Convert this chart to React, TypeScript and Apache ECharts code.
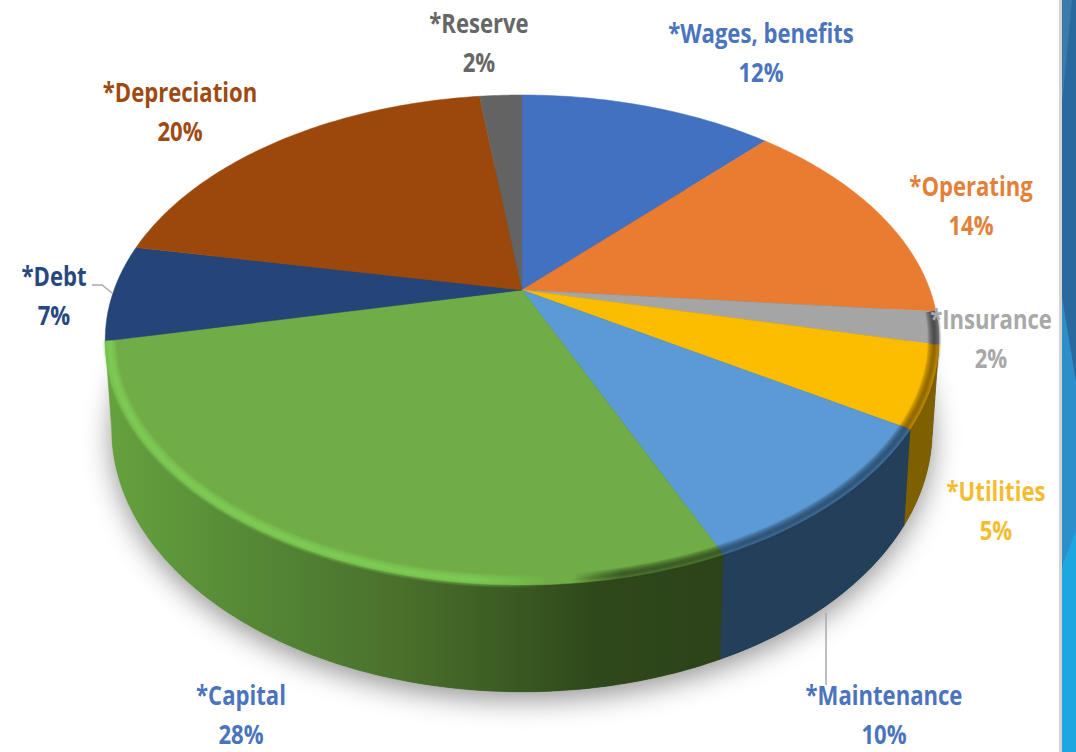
import React, { useEffect, useRef } from "react";
import * as echarts from "echarts";

const categories = ["*Wages, benefits", "*Operating", "*Insurance", "*Utilities", "*Maintenance", "*Capital", "*Debt", "*Depreciation", "*Reserve"];
const shares = [12, 14, 2, 5, 10, 28, 7, 20, 2];

const faceColors = ["#4371c2", "#e97c31", "#a5a5a5", "#fcbd00", "#5b9ad4", "#70ad47", "#254478", "#9c480c", "#636363"];
const labelColors = ["#4a74bd", "#e3803a", "#a8a8a8", "#f5bd2e", "#4a74bd", "#4a74bd", "#27487f", "#9e4a12", "#666666"];
const labelCentres = [[761, 33], [971, 186], [991, 319], [996, 491], [884, 695], [241, 695], [54, 276], [180, 92], [479, 23]];

const LINE_GAP = 38.5;
const TILT = 0.204;

// A disc seen in perspective: the circle's centre lands off the ellipse's centre.
const topDisc = { x: 522, y: 290, rx: 408, ry: 234.8 };
const baseDisc = { x: 522, y: 376.5, rx: 401.6, ry: 251 };

type Disc = typeof topDisc;

// Lens correction of the camera angle around the disc
const angleShift = (f: number) =>
  0.009 * Math.exp(-(((f - 0.345) / 0.1) ** 2)) + 0.007 * Math.exp(-(((f - 0.7) / 0.04) ** 2));

const project = (disc: Disc, frac: number, r = 1): number[] => {
  const a = (frac + angleShift(frac)) * Math.PI * 2;
  const u = r * Math.sin(a);
  const v = -r * Math.cos(a);
  const w = 1 - TILT * v;
  return [disc.x + (disc.rx * u) / w, disc.y + (disc.ry * v) / w];
};

const arc = (disc: Disc, from: number, to: number, r = 1): number[][] => {
  const steps = Math.max(2, Math.ceil((to - from) * 400));
  const pts: number[][] = [];
  for (let i = 0; i <= steps; i++) pts.push(project(disc, from + ((to - from) * i) / steps, r));
  return pts;
};

const total = shares.reduce((s, v) => s + v, 0);
const spans = shares.map((v, i) => {
  const before = shares.slice(0, i).reduce((s, x) => s + x, 0);
  return [i, before / total, (before + v) / total];
});

const greenWall = {
  type: "linear", x: 105, y: 0, x2: 720, y2: 0, global: true,
  colorStops: [
    { offset: 0, color: "#66a23f" },
    { offset: 0.26, color: "#548635" },
    { offset: 0.48, color: "#4a702c" },
    { offset: 0.66, color: "#3a5a22" },
    { offset: 0.8, color: "#2f481b" },
    { offset: 1, color: "#2d431a" },
  ],
};

// Only the slices facing the viewer show a wall; the rest sit behind the top face.
const wallColors: Record<number, unknown> = { 2: "#505050", 3: "#7f6000", 4: "#243f5a", 5: greenWall };

// Soft bevel along the front rim of the top face: capital glows, then falls into shade.
const capitalRim = (alpha: number) => ({
  type: "linear", x: 105, y: 0, x2: 720, y2: 0, global: true,
  colorStops: [
    { offset: 0, color: `rgba(128,212,88,${alpha})` },
    { offset: 0.6, color: `rgba(128,212,88,${alpha})` },
    { offset: 0.72, color: "rgba(128,212,88,0)" },
    { offset: 0.76, color: "rgba(40,64,24,0)" },
    { offset: 0.84, color: `rgba(40,64,24,${alpha})` },
    { offset: 1, color: `rgba(40,64,24,${alpha})` },
  ],
});
const rimColors: Record<number, (alpha: number) => unknown> = {
  2: (a) => `rgba(50,50,50,${a})`,
  3: (a) => `rgba(110,80,0,${a})`,
  4: (a) => `rgba(36,63,90,${a})`,
  5: capitalRim,
};
const rimWidths = [1.5, 3, 4.5, 6, 7.5, 9, 10.5, 12, 13.5];
const RIM_ALPHA = 0.14;
const RIM_RADIUS = 0.99;

const bandShapes: { points: number[][]; fill: string }[] = [
  { points: [[1062, 0], [1076, 0], [1076, 752], [1062, 752]], fill: "#2c8fcc" },
  { points: [[1062, 0], [1076, 0], [1076, 382], [1062, 297]], fill: "#2a699d" },
  { points: [[1062, 0], [1072, 0], [1062, 105]], fill: "#3a7ba9" },
  { points: [[1062, 567], [1076, 530], [1076, 752], [1062, 752]], fill: "#1da7e0" },
];

export default function App() {
  const ref = useRef<HTMLDivElement>(null);

  useEffect(() => {
    const chart = echarts.init(ref.current!, null, { renderer: "svg" });
    chart.setOption({
      animation: false,
      backgroundColor: "#ffffff",
      graphic: [
        { type: "rect", shape: { x: 1059, y: 0, width: 3, height: 752 }, style: { fill: "#d4d4d4" }, silent: true },
        ...bandShapes.map((b) => ({ type: "polygon", shape: { points: b.points }, style: { fill: b.fill }, silent: true })),
      ],
      series: [
        {
          // Base of the disc with its cast shadow
          type: "custom", coordinateSystem: "none", silent: true, z: 1, data: [[0]],
          renderItem: () => ({
            type: "polygon",
            shape: { points: arc(baseDisc, 0, 1) },
            style: { fill: greenWall, shadowBlur: 28, shadowColor: "rgba(0,0,0,0.42)", shadowOffsetY: 8 },
          }),
        },
        {
          // Side walls, painted back to front
          type: "custom", coordinateSystem: "none", silent: true, z: 2, data: spans,
          renderItem: (_p: unknown, api: any) => {
            const i = api.value(0);
            const fill = wallColors[i];
            if (!fill) return null;
            const from = api.value(1);
            const to = api.value(2);
            return {
              type: "polygon",
              shape: { points: [...arc(topDisc, from, to), ...arc(baseDisc, from, to).reverse()] },
              style: { fill, stroke: fill, lineWidth: 0.5 },
            };
          },
        },
        {
          // Top faces
          type: "custom", coordinateSystem: "none", silent: true, z: 3, data: spans,
          renderItem: (_p: unknown, api: any) => {
            const i = api.value(0);
            return {
              type: "polygon",
              shape: { points: [[topDisc.x, topDisc.y], ...arc(topDisc, api.value(1), api.value(2))] },
              style: { fill: faceColors[i], stroke: faceColors[i], lineWidth: 0.5 },
            };
          },
        },
        {
          // Rim bevel on the slices facing the viewer
          type: "custom", coordinateSystem: "none", silent: true, z: 4, data: spans,
          renderItem: (_p: unknown, api: any) => {
            const i = api.value(0);
            const rim = rimColors[i];
            if (!rim) return null;
            return {
              type: "group",
              children: rimWidths.map((width) => ({
                type: "polyline",
                shape: { points: arc(topDisc, api.value(1), api.value(2), RIM_RADIUS) },
                style: { fill: "none", stroke: rim(RIM_ALPHA), lineWidth: width, lineCap: "butt" },
              })),
            };
          },
        },
        {
          // Leader lines
          type: "custom", coordinateSystem: "none", silent: true, z: 5, data: [[92, 285, 102, 285, 112, 293], [826, 613, 826, 685, 826, 685]],
          renderItem: (_p: unknown, api: any) => ({
            type: "polyline",
            shape: { points: [[api.value(0), api.value(1)], [api.value(2), api.value(3)], [api.value(4), api.value(5)]] },
            style: { fill: "none", stroke: "#a9a9a9", lineWidth: 1.5 },
          }),
        },
        {
          // Category name and share
          type: "custom", coordinateSystem: "none", silent: true, z: 6, data: spans,
          renderItem: (_p: unknown, api: any) => {
            const i = api.value(0);
            const [cx, cy] = labelCentres[i];
            const line = (text: string, y: number) => ({
              type: "text",
              x: cx,
              y,
              scaleX: 0.85,
              style: {
                text,
                fill: labelColors[i],
                fontFamily: '"Open Sans"',
                fontWeight: 700,
                fontSize: 26,
                align: "center",
                verticalAlign: "middle",
              },
            });
            return { type: "group", children: [line(categories[i], cy), line(`${shares[i]}%`, cy + LINE_GAP)] };
          },
        },
      ],
    });
    return () => chart.dispose();
  }, []);

  return <div ref={ref} style={{ position: "fixed", left: 0, top: 0, width: 1076, height: 752 }} />;
}
